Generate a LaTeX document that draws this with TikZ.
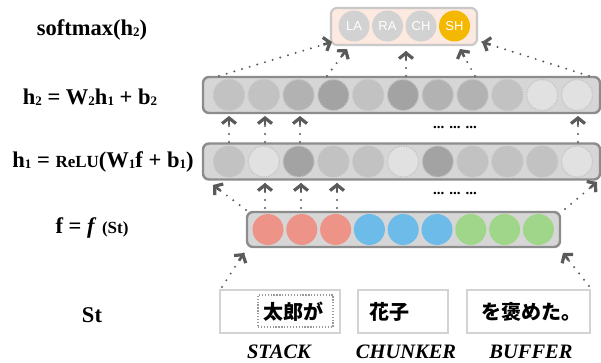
\documentclass[tikz,border=0pt]{standalone}
\usepackage{fontspec}
\setmainfont{Liberation Serif}
\newfontfamily\jpfont{Noto Sans CJK JP}
\newfontfamily\lsans{Liberation Sans}
\usetikzlibrary{arrows.meta,calc}
\definecolor{barfill}{HTML}{D6D6D6}
\definecolor{barline}{HTML}{8C8C8C}
\definecolor{gA}{HTML}{C2C2C2}
\definecolor{gB}{HTML}{B2B2B2}
\definecolor{gC}{HTML}{A3A3A3}
\definecolor{gD}{HTML}{E1E1E1}
\definecolor{cred}{HTML}{EE9387}
\definecolor{cblue}{HTML}{6CBBE9}
\definecolor{cgreen}{HTML}{A0D68A}
\definecolor{outfill}{HTML}{FCE9DF}
\definecolor{outline}{HTML}{C9C9C9}
\definecolor{outgray}{HTML}{D2D2D2}
\definecolor{shcol}{HTML}{F5B800}
\definecolor{arr}{HTML}{5A5A5A}
\definecolor{boxline}{HTML}{D3D3D3}
\definecolor{ring}{HTML}{C4C4C4}
\newcommand\lsb[1]{\raisebox{-0.5pt}{\fontsize{13}{13}\selectfont #1}}
\newcommand\smallpart[1]{{\fontsize{17}{17}\selectfont #1}}
\tikzset{
  bar/.style={draw=barline, fill=barfill, line width=2.4pt, rounded corners=6pt, inner sep=0pt},
  hcirc/.style={circle, fill=#1, draw=ring, line width=1.3pt, dash pattern=on 1.2pt off 1.3pt, minimum size=31pt, inner sep=0pt},
  fcirc/.style={circle, fill=#1, minimum size=31pt, inner sep=0pt},
  ocirc/.style={circle, fill=#1, minimum size=31pt, inner sep=0pt, text=white, font=\lsans\fontsize{13}{13}\selectfont},
  dotline/.style={draw=arr, line width=2.2pt, line cap=round, dash pattern=on 0pt off 8pt},
  stub/.style={draw=arr, line width=2.6pt, -{Straight Barb[length=5.5pt,width=14pt,line width=3.2pt]}},
  lbl/.style={font=\bfseries\fontsize{22.5}{22.5}\selectfont, inner sep=0pt},
  capt/.style={font=\bfseries\itshape\fontsize{20.5}{20.5}\selectfont, inner sep=0pt},
  wbox/.style={draw=boxline, line width=2.4pt, inner sep=0pt},
  jptext/.style={font=\jpfont\bfseries\fontsize{20}{20}\selectfont, inner sep=0pt, anchor=west},
  dotlbl/.style={font=\bfseries\fontsize{15}{15}\selectfont, inner sep=0pt}
}
\newcommand\darr[2]{\draw[dotline] (#1) -- (#2); \draw[stub] ($(#2)!9pt!(#1)$) -- (#2);}
\begin{document}
\begin{tikzpicture}[x=1pt,y=-1pt]
\useasboundingbox (0,0) rectangle (601,363);
% output bar
\node[bar, draw=outline, fill=outfill, minimum width=146pt, minimum height=37pt, line width=2.2pt] (out) at (404,26.5) {};
\node[ocirc=outgray] (la) at (354,26) {LA};
\node[ocirc=outgray] (ra) at (387.5,26) {RA};
\node[ocirc=outgray] (ch) at (421,26) {CH};
\node[ocirc=shcol] (sh) at (454.5,26) {SH};
% h2 bar
\node[bar, minimum width=397pt, minimum height=36pt] (h2) at (401.5,95) {};
\foreach \c [count=\i] in {gA,gA,gB,gC,gA,gC,gB,gB,gA,gD,gD}
  \node[hcirc=\c] (h2c\i) at ({229+34.8*(\i-1)},95) {};
% h1 bar
\node[bar, minimum width=397pt, minimum height=36pt] (h1) at (401.5,161.5) {};
\foreach \c [count=\i] in {gA,gD,gC,gA,gA,gD,gC,gA,gA,gA,gD}
  \node[hcirc=\c] (h1c\i) at ({229+34.8*(\i-1)},161.5) {};
% f bar
\node[bar, minimum width=313pt, minimum height=35pt] (f) at (403.5,229.5) {};
\foreach \c [count=\i] in {cred,cred,cred,cblue,cblue,cblue,cgreen,cgreen,cgreen}
  \node[fcirc=\c] (fc\i) at ({268+33.8*(\i-1)},229.5) {};
% dots
\node[dotlbl] (d1) at (455,127) {... ... ...};
\node[dotlbl] (d2) at (455,193) {... ... ...};
% bottom boxes
\node[wbox, minimum width=120pt, minimum height=43pt] (stack) at (280,311.5) {};
\node[wbox, minimum width=90pt, minimum height=43pt] (chunk) at (403,311.5) {};
\node[wbox, minimum width=123pt, minimum height=43pt] (buf) at (528.5,311.5) {};
\node[draw=gray!80, line width=1.3pt, dash pattern=on 1.3pt off 1.6pt, minimum width=75pt, minimum height=32pt, inner sep=0pt] (sel) at (295.5,311) {};
\node[jptext] (t1) at (263,312) {太郎が};
\node[jptext] (t2) at (369,312) {花子};
\node[jptext] (t3) at (481,312) {を褒めた。};
\node[capt] (cs) at (279,352) {STACK};
\node[capt] (cc) at (406,352) {CHUNKER};
\node[capt] (cb) at (531,352) {BUFFER};
% left labels
\node[lbl] (l1) at (92,30) {softmax(h\lsb{2})};
\node[lbl] (l2) at (90,97) {h\lsb{2} = W\lsb{2}h\lsb{1} + b\lsb{2}};
\node[lbl] (l3) at (103,162) {h\lsb{1} = \smallpart{ReLU}(W\lsb{1}f + b\lsb{1})};
\node[lbl] (l4) at (92,228) {f = \textit{f} \smallpart{(St)}};
\node[lbl] (l5) at (92,315) {St};
% arrow coordinates
\coordinate (s1) at (222,287);
\coordinate (e1) at (244,253);
\coordinate (s2) at (589,286);
\coordinate (e2) at (563,253);
\coordinate (s3) at (246,210);
\coordinate (e3) at (213,185);
\coordinate (s4) at (565,209);
\coordinate (e4) at (597,182);
\coordinate (s5) at (219,76);
\coordinate (e5) at (332,42);
\coordinate (s6) at (327,76);
\coordinate (e6) at (347,49);
\coordinate (s7) at (406,76);
\coordinate (e7) at (406,51);
\coordinate (s8) at (475,76);
\coordinate (e8) at (460,49);
\coordinate (s9) at (589,76);
\coordinate (e9) at (482,42);
\darr{s1}{e1}
\darr{s2}{e2}
\darr{s3}{e3}
\darr{s4}{e4}
\foreach \x in {265,301,337} {
  \coordinate (fa\x) at (\x,208);
  \coordinate (fb\x) at (\x,183);
  \darr{fa\x}{fb\x}
}
\foreach \x in {229,265,300,578} {
  \coordinate (ha\x) at (\x,142);
  \coordinate (hb\x) at (\x,116);
  \darr{ha\x}{hb\x}
}
\darr{s5}{e5}
\darr{s6}{e6}
\darr{s7}{e7}
\darr{s8}{e8}
\darr{s9}{e9}
\end{tikzpicture}
\end{document}
